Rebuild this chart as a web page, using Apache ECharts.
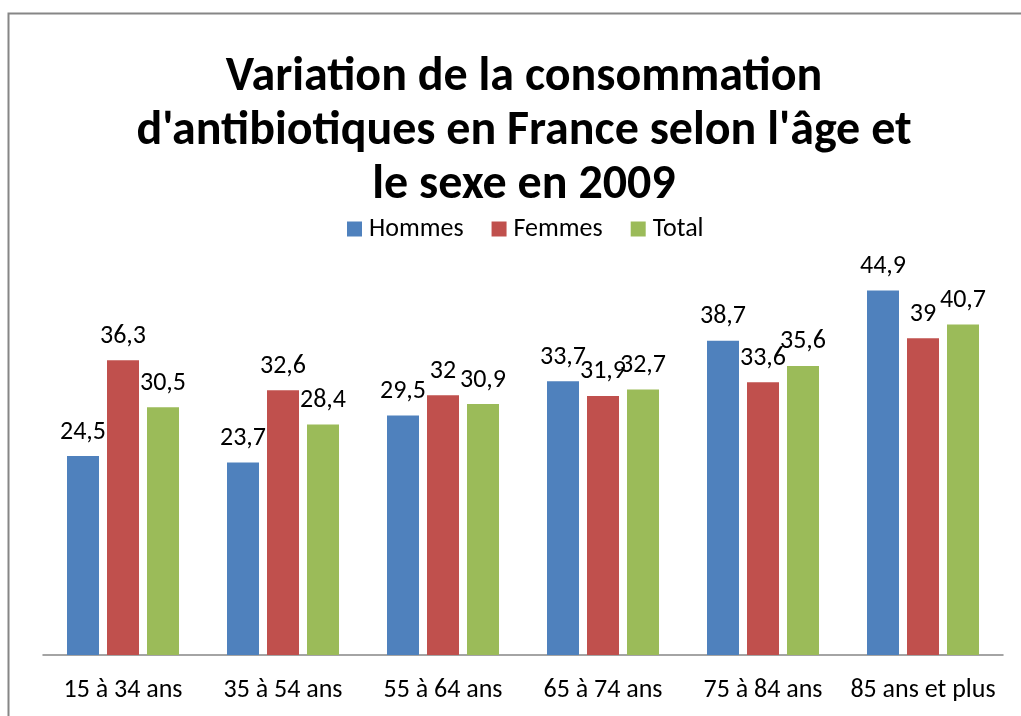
<!DOCTYPE html>
<html>
<head>
<meta charset="utf-8">
<script src="https://cdn.jsdelivr.net/npm/echarts@6/dist/echarts.min.js"></script>
<style>
html,body{margin:0;padding:0;background:#fff;}
#c{width:1021px;height:716px;}
</style>
</head>
<body>
<div id="c"></div>
<script>
var categories = ['15 à 34 ans', '35 à 54 ans', '55 à 64 ans', '65 à 74 ans', '75 à 84 ans', '85 ans et plus'];
var hommes = [24.5, 23.7, 29.5, 33.7, 38.7, 44.9];
var femmes = [36.3, 32.6, 32, 31.9, 33.6, 39];
var total = [30.5, 28.4, 30.9, 32.7, 35.6, 40.7];
var seriesNames = ['Hommes', 'Femmes', 'Total'];
var titleText = "Variation de la consommation\nd'antibiotiques en France selon l'âge et\nle sexe en 2009";

var FONT = "Carlito, Lato, 'Open Sans', sans-serif";
var chart = echarts.init(document.getElementById('c'));
function fmt(p){ return String(p.value).replace('.', ','); }
function mk(name, data, color){
  return {
    name: name, type: 'bar', data: data, barWidth: 32, barGap: '25%',
    itemStyle: {color: color},
    label: {show: true, position: 'top', distance: 11, formatter: fmt,
            fontFamily: FONT, fontSize: 26, color: '#000'}
  };
}
chart.setOption({
  animation: false,
  title: {text: titleText, left: 519, textAlign: 'center', top: 46,
          textStyle: {fontFamily: FONT, fontWeight: 'bold', fontSize: 48, lineHeight: 54, color: '#000'}},
  legend: {data: seriesNames, top: 211, left: 342, itemWidth: 15, itemHeight: 15, itemGap: 28,
           icon: 'rect', textStyle: {fontFamily: FONT, fontSize: 26, color: '#000', padding: [0, 0, 0, 2]}},
  graphic: [{type: 'rect', shape: {x: 8.5, y: 13.5, width: 1200, height: 900},
             style: {fill: 'none', stroke: '#868686', lineWidth: 2}}],
  grid: {left: 43, right: 18, top: 249, bottom: 61, containLabel: false},
  xAxis: {type: 'category', data: categories,
          axisLine: {lineStyle: {color: '#868686', width: 1.5}}, axisTick: {show: false},
          axisLabel: {interval: 0, fontFamily: FONT, fontSize: 26, color: '#000', margin: 22}},
  yAxis: {type: 'value', min: 0, max: 50, show: false, splitLine: {show: false}},
  series: [mk(seriesNames[0], hommes, '#4F81BD'), mk(seriesNames[1], femmes, '#C0504D'), mk(seriesNames[2], total, '#9BBB59')]
});
</script>
</body>
</html>
